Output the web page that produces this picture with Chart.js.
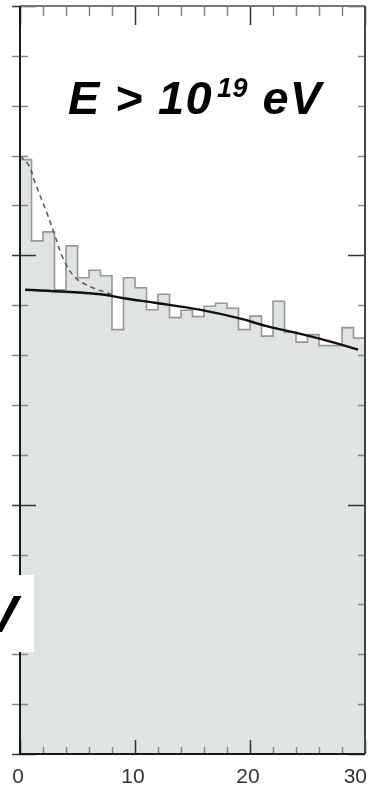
<!DOCTYPE html>
<html>
<head>
<meta charset="utf-8">
<script src="https://cdn.jsdelivr.net/npm/chart.js@4"></script>
<style>
  html, body { margin: 0; padding: 0; background: #fff; }
  canvas { display: block; }
</style>
</head>
<body>
<canvas id="c" width="384" height="796"></canvas>
<script>
// histogram: one value per unit bin, bins from 0 to 30
const binStart = 0;
const histValues = [11.92, 10.29, 10.47, 9.31, 10.19, 9.55, 9.70, 9.59, 8.51, 9.55,
                    9.35, 8.91, 9.22, 8.75, 8.90, 8.77, 8.98, 9.04, 8.94, 8.51,
                    8.78, 8.38, 9.08, 8.46, 8.26, 8.41, 8.19, 8.19, 8.55, 8.34];

// solid fit curve
const fitX = [0.45, 4, 7, 9, 12, 15.6, 19, 21.6, 24.3, 27, 29.4];
const fitY = [9.31, 9.27, 9.22, 9.14, 9.04, 8.91, 8.74, 8.57, 8.43, 8.27, 8.11];

// dashed curve (peak near zero)
const dashX = [0, 0.78, 1.3, 2.32, 3.04, 3.77, 4.78, 6.23, 7.97];
const dashY = [12.0, 11.8, 11.46, 10.86, 10.39, 9.93, 9.56, 9.36, 9.22];

const xTickLabels = [0, 10, 20, 30];
const xMin = 0, xMax = 30, yMin = 0, yMax = 15;

const histPoints = histValues.map((v, i) => ({ x: binStart + i, y: v }));
histPoints.push({ x: binStart + histValues.length, y: histValues[histValues.length - 1] });

const FONT = "'Liberation Sans', Arial, Helvetica, sans-serif";

// draws text one glyph at a time with extra spacing, returns end x
const spacedText = (ctx, s, x, y, gap) => {
  for (const ch of s) {
    ctx.fillText(ch, x, y);
    x += ctx.measureText(ch).width + gap;
  }
  return x;
};

// frame, ticks, labels and the text on top
const framePlugin = {
  id: 'frame',
  afterDraw(chart) {
    const { ctx, chartArea: a, scales: { x, y } } = chart;
    ctx.save();

    // left / right ticks
    for (let v = yMin; v <= yMax; v++) {
      const py = Math.round(y.getPixelForValue(v)) + 0.5;
      const major = v % 5 === 0;
      ctx.strokeStyle = major ? '#333' : '#8a8590';
      ctx.lineWidth = 1.5;
      ctx.beginPath();
      ctx.moveTo(a.left - 8, py);
      ctx.lineTo(a.left + (major ? 16 : 8), py);
      ctx.moveTo(a.right, py);
      ctx.lineTo(a.right - (major ? 17 : 7), py);
      ctx.stroke();
    }

    // top / bottom ticks
    for (let v = xMin; v <= xMax; v += 2) {
      const px = Math.round(x.getPixelForValue(v)) + 0.5;
      const major = v % 10 === 0;
      ctx.strokeStyle = major ? '#333' : '#8a8590';
      ctx.lineWidth = 1.5;
      ctx.beginPath();
      ctx.moveTo(px, a.bottom);
      ctx.lineTo(px, a.bottom - (major ? 14 : 7));
      ctx.moveTo(px, a.top);
      ctx.lineTo(px, a.top + (major ? 19 : 10));
      ctx.stroke();
    }

    // frame
    ctx.lineWidth = 2;
    ctx.strokeStyle = '#777';
    ctx.beginPath(); ctx.moveTo(a.left, a.top); ctx.lineTo(a.right, a.top); ctx.stroke();
    ctx.strokeStyle = '#444';
    ctx.beginPath(); ctx.moveTo(a.right, a.top); ctx.lineTo(a.right, a.bottom); ctx.stroke();
    ctx.strokeStyle = '#1a1a1a';
    ctx.beginPath();
    ctx.moveTo(a.left, a.top); ctx.lineTo(a.left, a.bottom); ctx.lineTo(a.right, a.bottom);
    ctx.stroke();

    // x tick labels
    ctx.fillStyle = '#333';
    ctx.font = '21px ' + FONT;
    ctx.textBaseline = 'alphabetic';
    ctx.textAlign = 'center';
    for (const v of xTickLabels) {
      const s = String(v);
      const w = ctx.measureText(s).width;
      const px = Math.min(x.getPixelForValue(v) - 2, 367 - w / 2);
      ctx.fillText(s, px, 783);
    }

    // energy label
    ctx.fillStyle = '#000';
    ctx.textAlign = 'left';
    ctx.font = 'italic bold 47px ' + FONT;
    let tx = spacedText(ctx, 'E > 10', 68, 114, 1.3);
    ctx.font = 'italic bold 27px ' + FONT;
    tx = spacedText(ctx, '19', tx + 4, 97, 0.5);
    ctx.font = 'italic bold 47px ' + FONT;
    spacedText(ctx, ' eV', tx, 114, 1.3);

    // cut-off label box from the neighbouring panel
    ctx.fillStyle = '#fff';
    ctx.fillRect(0, 575, 34, 77);
    ctx.fillStyle = '#000';
    ctx.font = 'italic bold 52px ' + FONT;
    ctx.textAlign = 'right';
    ctx.fillText('V', 18, 632);

    ctx.restore();
  }
};

new Chart(document.getElementById('c'), {
  type: 'line',
  data: {
    datasets: [
      {
        label: 'fit',
        data: fitX.map((v, i) => ({ x: v, y: fitY[i] })),
        borderColor: '#111',
        borderWidth: 2.4,
        pointRadius: 0,
        tension: 0.4,
        fill: false,
        order: 1
      },
      {
        label: 'dashed',
        data: dashX.map((v, i) => ({ x: v, y: dashY[i] })),
        borderColor: '#5f5f5f',
        borderWidth: 1.6,
        borderDash: [5, 4],
        pointRadius: 0,
        tension: 0.4,
        fill: false,
        order: 2
      },
      {
        label: 'histogram',
        data: histPoints,
        stepped: 'before',
        borderColor: '#9a949c',
        borderWidth: 1.6,
        backgroundColor: '#dee5e0',
        pointRadius: 0,
        fill: 'origin',
        order: 3
      }
    ]
  },
  options: {
    responsive: false,
    animation: false,
    layout: { padding: { left: 20, top: 6, right: 19, bottom: 42 } },
    plugins: { legend: { display: false }, tooltip: { enabled: false }, title: { display: false } },
    scales: {
      x: { type: 'linear', min: xMin, max: xMax, display: false },
      y: { type: 'linear', min: yMin, max: yMax, display: false }
    }
  },
  plugins: [framePlugin]
});
</script>
</body>
</html>
